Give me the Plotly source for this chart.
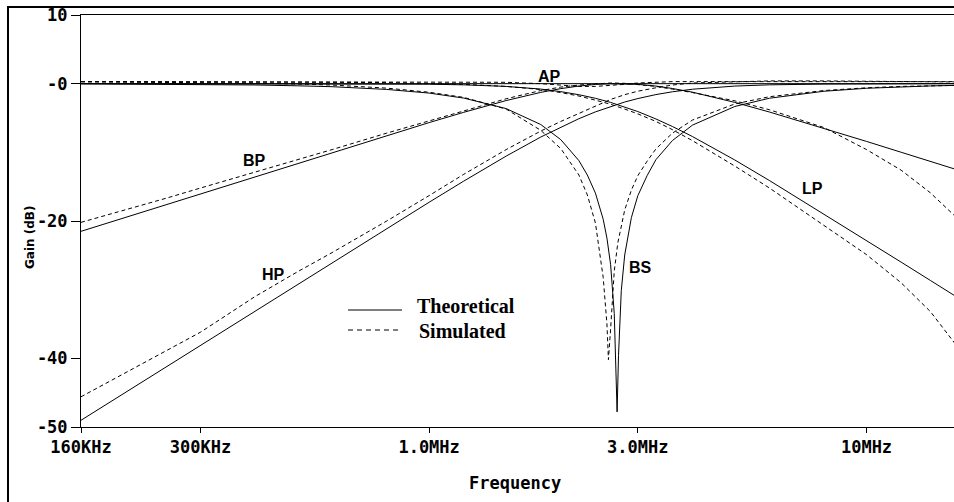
import plotly.graph_objects as go

# ---------------- data ----------------
freq_mhz = [0.16, 0.2, 0.25, 0.3, 0.4, 0.5, 0.6, 0.8, 1.0, 1.2, 1.5, 1.8, 2.0, 2.2,
            2.4, 2.6, 2.8, 3.0, 3.3, 3.6, 4.0, 5.0, 6.0, 8.0, 10, 12, 14, 16]

lp_theoretical = [0, 0, 0, 0, 0, -0.01, -0.01, -0.03, -0.08, -0.17, -0.40, -0.79, -1.16, -1.61,
                  -2.13, -2.73, -3.37, -4.06, -5.14, -6.24, -7.70, -11.12, -14.11, -18.99, -22.83,
                  -25.99, -28.66, -30.98]
lp_simulated = [0.3, 0.3, 0.3, 0.3, 0.3, 0.25, 0.2, 0.15, 0.05, -0.1, -0.4, -0.85, -1.3, -1.8,
                -2.4, -3.0, -3.7, -4.4, -5.5, -6.7, -8.3, -12.0, -15.2, -20.6, -24.9,
                -29.0, -33.2, -38.0]

hp_theoretical = [-49.02, -45.15, -41.27, -38.10, -33.11, -29.24, -26.07, -21.10, -17.27, -14.19,
                  -10.55, -7.77, -6.31, -5.10, -4.11, -3.32, -2.67, -2.17, -1.59, -1.18, -0.81,
                  -0.35, -0.17, -0.06, -0.02, -0.01, -0.01, 0.0]
hp_simulated = [-45.6, -42.3, -39.0, -36.2, -31.0, -27.4, -24.6, -20.0, -16.3, -13.2,
                -9.6, -6.9, -5.5, -4.3, -3.2, -2.3, -1.6, -1.1, -0.6, -0.2, 0.1,
                0.3, 0.4, 0.4, 0.35, 0.3, 0.3, 0.25]

bp_theoretical = [-21.50, -19.57, -17.63, -16.04, -13.54, -11.62, -10.03, -7.55, -5.67, -4.17,
                  -2.46, -1.27, -0.72, -0.35, -0.11, -0.02, -0.01, -0.10, -0.35, -0.70, -1.24,
                  -2.73, -4.13, -6.51, -8.41, -9.99, -11.32, -12.48]
bp_simulated = [-20.2, -18.5, -16.7, -15.2, -12.9, -11.1, -9.6, -7.2, -5.4, -3.9,
                -2.2, -1.0, -0.5, -0.2, 0.0, 0.1, 0.05, -0.1, -0.4, -0.8, -1.3,
                -2.5, -3.8, -6.4, -9.6, -12.6, -15.9, -19.4]

ap_theoretical = [0, 0, 0, 0, 0, 0, 0, 0, 0, 0, 0, 0, 0, 0,
                  0, 0, 0, 0, 0, 0, 0, 0, 0, 0, 0, 0, 0, 0]
ap_simulated = [0.3, 0.3, 0.3, 0.3, 0.3, 0.3, 0.3, 0.3, 0.3, 0.3, 0.2, 0.0, -0.2, -0.4,
                -0.4, -0.3, -0.1, 0.1, 0.2, 0.3, 0.3, 0.3, 0.3, 0.3, 0.3, 0.3, 0.3, 0.3]

bs_freq_theoretical = [0.16, 0.2, 0.25, 0.3, 0.4, 0.5, 0.6, 0.8, 1.0, 1.2, 1.5, 1.8, 2.0, 2.2,
                       2.3, 2.4, 2.5, 2.55, 2.6, 2.65, 2.67, 2.69, 2.71, 2.75, 2.8, 2.85, 2.9,
                       3.0, 3.15, 3.3, 3.6, 4.0, 5.0, 6.0, 8.0, 10, 12, 14, 16]
bs_theoretical = [-0.03, -0.05, -0.08, -0.11, -0.19, -0.31, -0.44, -0.84, -1.37, -2.10, -3.63,
                  -5.95, -8.15, -11.21, -13.3, -15.94, -19.74, -22.5, -26.37, -33.48, -39.5,
                  -47.8, -39.6, -30.13, -24.95, -21.9, -19.50, -16.32, -13.4, -11.07, -8.28,
                  -6.04, -3.32, -2.12, -1.10, -0.67, -0.46, -0.33, -0.25]

bs_freq_simulated = [0.16, 0.2, 0.25, 0.3, 0.4, 0.5, 0.6, 0.8, 1.0, 1.2, 1.5, 1.8, 2.0, 2.2,
                     2.3, 2.4, 2.5, 2.55, 2.57, 2.6, 2.65, 2.7, 2.8, 2.9, 3.0, 3.15, 3.3, 3.6,
                     4.0, 5.0, 6.0, 8.0, 10, 12, 14, 16]
bs_simulated = [0.27, 0.25, 0.2, 0.17, 0.08, -0.05, -0.2, -0.65, -1.25, -2.0, -3.7, -6.8, -9.45,
                -13.3, -16.2, -20.3, -28.2, -35.0, -40.2, -35.7, -27.3, -23.2, -18.4, -15.5,
                -13.4, -11.3, -9.5, -7.2, -5.3, -2.95, -1.9, -1.0, -0.6, -0.4, -0.3, -0.25]

x_tick_vals = [160e3, 300e3, 1e6, 3e6, 10e6]
x_tick_text = ["160KHz", "300KHz", "1.0MHz", "3.0MHz", "10MHz"]
y_tick_vals = [10, 0, -20, -40, -50]
y_tick_text = ["10", "-0", "-20", "-40", "-50"]

curve_labels = ["BP", "AP", "LP", "HP", "BS"]
legend_names = ["Theoretical", "Simulated"]

# ---------------- layout geometry ----------------
W, H = 954, 502
L, R, T, B = 81, 0, 15, 75
PW, PH = W - L - R, H - T - B
X_RANGE = [5.2041, 7.2]
Y_RANGE = [-50, 10]


def px(xp):
    return (xp - L) / PW


def py(yp):
    return (H - B - yp) / PH


def hz(values):
    return [v * 1e6 for v in values]


DASH = "4px,3px"
fig = go.Figure()


def add(freqs, gains, dashed):
    fig.add_trace(go.Scatter(
        x=hz(freqs), y=gains, mode="lines",
        line=dict(color="black", width=1, dash=DASH if dashed else "solid"),
        showlegend=False, hoverinfo="skip"))


add(freq_mhz, ap_simulated, True)
add(freq_mhz, lp_simulated, True)
add(freq_mhz, hp_simulated, True)
add(freq_mhz, bp_simulated, True)
add(bs_freq_simulated, bs_simulated, True)
add(freq_mhz, ap_theoretical, False)
add(freq_mhz, lp_theoretical, False)
add(freq_mhz, hp_theoretical, False)
add(freq_mhz, bp_theoretical, False)
add(bs_freq_theoretical, bs_theoretical, False)

tick_font = dict(family="DejaVu Sans Mono, monospace", size=17, color="black", weight="bold")
label_font = dict(family="Liberation Sans Narrow, Arial Narrow, Liberation Sans, sans-serif",
                  size=16, color="black", weight="bold")
legend_font = dict(family="Liberation Serif, Times New Roman, serif", size=20,
                   color="black", weight="bold")

fig.update_layout(
    width=W, height=H,
    margin=dict(l=L, r=R, t=T, b=B, pad=0),
    paper_bgcolor="white", plot_bgcolor="white",
    xaxis=dict(type="log", range=X_RANGE, tickvals=x_tick_vals, ticktext=x_tick_text,
               showgrid=False, zeroline=False, showline=True, linecolor="black", linewidth=1,
               mirror=True, ticks="outside", ticklen=5, tickcolor="black", tickwidth=1,
               tickfont=tick_font),
    yaxis=dict(range=Y_RANGE, tickvals=y_tick_vals, ticktext=y_tick_text,
               showgrid=False, zeroline=False, showline=True, linecolor="black", linewidth=1,
               mirror=False, ticks="outside", ticklen=9, tickcolor="black", tickwidth=1,
               tickfont=tick_font, ticklabelstandoff=0),
)

# curve labels (pixel positions)
label_pos = [(254, 161), (549, 76), (812, 188), (273, 274), (640, 267)]
for name, (xp, yp) in zip(curve_labels, label_pos):
    fig.add_annotation(x=px(xp), y=py(yp), xref="paper", yref="paper", text=name,
                       showarrow=False, font=label_font, xanchor="center", yanchor="middle")

# legend
fig.add_shape(type="line", xref="paper", yref="paper", x0=px(348), x1=px(402),
              y0=py(310), y1=py(310), line=dict(color="black", width=1))
fig.add_shape(type="line", xref="paper", yref="paper", x0=px(348), x1=px(400),
              y0=py(330), y1=py(330), line=dict(color="black", width=1, dash="5px,4px"))
fig.add_annotation(x=px(415), y=py(306), xref="paper", yref="paper", text=legend_names[0],
                   showarrow=False, font=legend_font, xanchor="left", yanchor="middle")
fig.add_annotation(x=px(417), y=py(331), xref="paper", yref="paper", text=legend_names[1],
                   showarrow=False, font=legend_font, xanchor="left", yanchor="middle")

# axis titles
fig.add_annotation(x=px(515), y=py(483), xref="paper", yref="paper", text="Frequency",
                   showarrow=False, font=tick_font, xanchor="center", yanchor="middle")
fig.add_annotation(x=px(30), y=py(237), xref="paper", yref="paper", text="Gain (dB)",
                   showarrow=False, textangle=-90,
                   font=dict(family="DejaVu Sans, sans-serif", size=12, color="black",
                             weight="bold"),
                   xanchor="center", yanchor="middle")

# outer frame
fig.add_shape(type="line", xref="paper", yref="paper", x0=px(8), x1=px(8),
              y0=py(6), y1=py(H + 5), line=dict(color="black", width=2))
fig.add_shape(type="line", xref="paper", yref="paper", x0=px(7), x1=px(W + 5),
              y0=py(7), y1=py(7), line=dict(color="black", width=2))

fig.write_html(
    "out.html",
    config={"displayModeBar": False},
    post_script="document.documentElement.style.margin='0';"
                "document.body.style.margin='0';document.body.style.overflow='hidden';",
)
